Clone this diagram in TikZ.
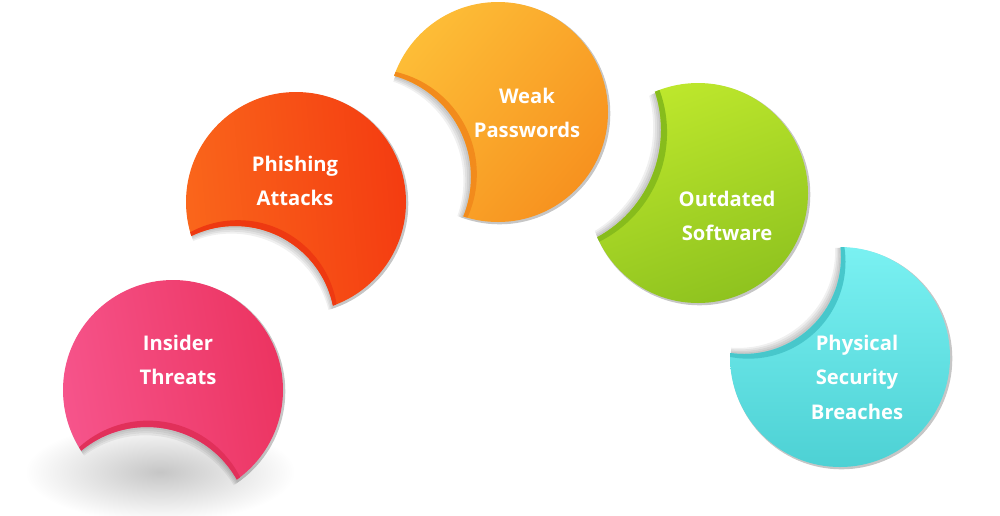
\documentclass[tikz,border=0pt]{standalone}
\usepackage{fontspec}
\setmainfont{Open Sans}
\usepackage{tikz}
\usetikzlibrary{calc}
\definecolor{pinkmain}{HTML}{EC3461}
\definecolor{pinklt}{HTML}{F6548B}
\definecolor{pinkfold}{HTML}{E1305A}
\definecolor{redmain}{HTML}{F43C11}
\definecolor{redlt}{HTML}{FA661B}
\definecolor{redfold}{HTML}{EE3911}
\definecolor{ambermain}{HTML}{F7921F}
\definecolor{amberlt}{HTML}{FDBD37}
\definecolor{amberfold}{HTML}{F28B1C}
\definecolor{limemain}{HTML}{8FC31F}
\definecolor{limelt}{HTML}{BDE72C}
\definecolor{limefold}{HTML}{87BC1C}
\definecolor{cyanmain}{HTML}{4DD1D4}
\definecolor{cyanlt}{HTML}{7AF1F2}
\definecolor{cyanfold}{HTML}{47C7CB}
\tikzset{
  lbl/.style={text=white, font=\fontsize{11.5}{19.6}\selectfont\bfseries, align=center},
  pinkshade/.style={top color=pinklt, middle color=pinkmain, bottom color=pinkmain, shading angle=100},
  redshade/.style={top color=redlt, middle color=redmain, bottom color=redmain, shading angle=95},
  ambershade/.style={top color=amberlt, middle color=ambermain, bottom color=ambermain, shading angle=50},
  limeshade/.style={top color=limelt, middle color=limemain, bottom color=limemain, shading angle=20},
  cyanshade/.style={top color=cyanlt, bottom color=cyanmain, shading angle=0},
}
% #1 centre, #2 radius, #3 bite centre, #4 bite radius, #5 shading, #6 fold colour
\newcommand{\drawsticker}[6]{%
  \foreach \d in {-1.2pt,-2.4pt,-3.6pt,-4.8pt}{
    \begin{scope}[even odd rule]
      \clip ($(#1)+(1.5,1.5)$) circle[radius=#2+0.8];
      \clip ($(#3)!\d!(#1)$) circle[radius=#4] (-50,-50) rectangle (1050,565);
      \fill[black, opacity=0.06] (-50,-50) rectangle (1050,565);
    \end{scope}
  }
  \begin{scope}[even odd rule]
    \clip (#1) circle[radius=#2];
    \clip (#3) circle[radius=#4] (-50,-50) rectangle (1050,565);
    \shade[#5] (#1) circle[radius=#2];
    \fill[#6] ($(#3)!0.13cm!(#1)$) circle[radius=#4];
  \end{scope}
}

\begin{document}
\begin{tikzpicture}[x=0.02cm,y=-0.02cm]
  \clip (0,0) rectangle (1000,515);
  \fill[white] (0,0) rectangle (1000,515);
  % soft shadow on the ground
  \shade[inner color=gray!45, outer color=white] (160,472) ellipse[x radius=135, y radius=50];

  \coordinate (insiderC) at (173,390);
  \coordinate (insiderB) at (147,530);
  \drawsticker{insiderC}{110}{insiderB}{103}{pinkshade}{pinkfold}
  \node[lbl] (insider) at (178,360) {Insider\\Threats};

  \coordinate (phishC) at (296,202);
  \coordinate (phishB) at (235,326);
  \drawsticker{phishC}{110}{phishB}{100}{redshade}{redfold}
  \node[lbl] (phish) at (295,181) {Phishing\\Attacks};

  \coordinate (weakC) at (498,112);
  \coordinate (weakB) at (366,177);
  \drawsticker{weakC}{110}{weakB}{105}{ambershade}{amberfold}
  \node[lbl] (weak) at (527,113) {Weak\\Passwords};

  \coordinate (outdC) at (698,193);
  \coordinate (outdB) at (539,130);
  \drawsticker{outdC}{110}{outdB}{122}{limeshade}{limefold}
  \node[lbl] (outd) at (727,216) {Outdated\\Software};

  \coordinate (physC) at (840,357);
  \coordinate (physB) at (744,257);
  \drawsticker{physC}{110}{physB}{97}{cyanshade}{cyanfold}
  \node[lbl] (phys) at (857,377) {Physical\\Security\\Breaches};
\end{tikzpicture}
\end{document}
